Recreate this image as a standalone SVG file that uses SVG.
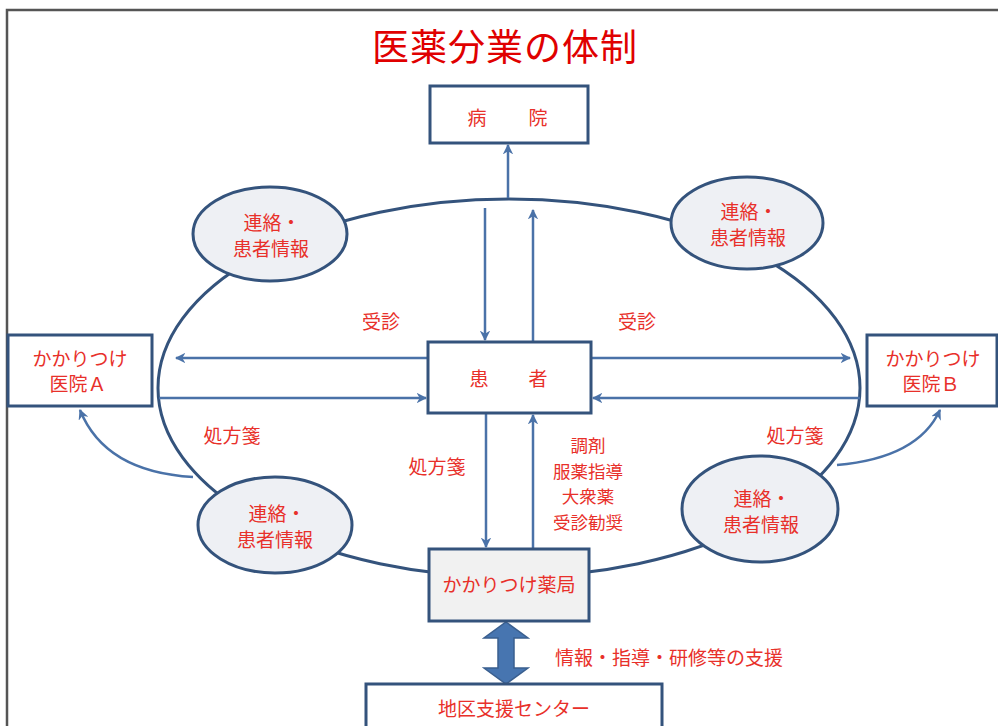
<svg xmlns="http://www.w3.org/2000/svg" width="998" height="726" viewBox="0 0 998 726">
<defs>
<marker id="ah" viewBox="0 0 10 10" refX="9" refY="5" markerWidth="4.2" markerHeight="4.2" orient="auto-start-reverse" markerUnits="strokeWidth">
<path d="M0,0 L10,5 L0,10 L3,5 Z" fill="#4a72a8"/>
</marker>
<style>
.t{font-family:"Noto Sans CJK JP","Noto Sans",sans-serif;fill:#e8302a;font-size:19px;text-anchor:middle}
.box{fill:#fff;stroke:#34537c;stroke-width:3}
.boxg{fill:#f1f1f1;stroke:#34537c;stroke-width:3}
.el{fill:#eef0f4;stroke:#34537c;stroke-width:3}
.ln{fill:none;stroke:#4a72a8;stroke-width:2.5}
.ring{fill:none;stroke:#34537c;stroke-width:3}
</style>
</defs>
<rect width="998" height="726" fill="#fff"/>
<path d="M7,726 V10 H998" fill="none" stroke="#555" stroke-width="2.5"/>
<text x="505" y="61" class="t" style="font-size:37px;fill:#e00000;letter-spacing:1px">医薬分業の体制</text>

<g id="connectors">
<ellipse class="ring" cx="509" cy="388" rx="351" ry="189"/>
<line class="ln" x1="508" y1="198" x2="508" y2="145" marker-end="url(#ah)"/>
<line class="ln" x1="485" y1="208" x2="485" y2="340" marker-end="url(#ah)"/>
<line class="ln" x1="533" y1="342" x2="533" y2="210" marker-end="url(#ah)"/>
<line class="ln" x1="486" y1="413" x2="486" y2="547" marker-end="url(#ah)"/>
<line class="ln" x1="533" y1="549" x2="533" y2="415" marker-end="url(#ah)"/>
<line class="ln" x1="428" y1="358" x2="176" y2="358" marker-end="url(#ah)"/>
<line class="ln" x1="159" y1="398" x2="426" y2="398" marker-end="url(#ah)"/>
<line class="ln" x1="591" y1="358" x2="850" y2="358" marker-end="url(#ah)"/>
<line class="ln" x1="860" y1="398" x2="593" y2="398" marker-end="url(#ah)"/>
<path class="ln" d="M193,477 Q105,472 80,410" marker-end="url(#ah)"/>
<path class="ln" d="M837,465 Q918,458 940,410" marker-end="url(#ah)"/>
<path d="M506,622 L528,638 L514,638 L514,668 L528,668 L506,684 L484,668 L498,668 L498,638 L484,638 Z" fill="#4775b0" stroke="#3a5f8f" stroke-width="1.5"/>
</g>

<g id="hospital">
<rect class="box" x="430" y="86" width="158" height="57"/>
<text class="t" y="125"><tspan x="477">病</tspan><tspan x="538">院</tspan></text>
</g>
<g id="patient">
<rect class="box" x="428" y="342" width="163" height="71"/>
<text class="t" y="386"><tspan x="479">患</tspan><tspan x="538">者</tspan></text>
</g>
<g id="clinicA">
<rect class="box" x="8" y="335" width="144" height="71"/>
<text class="t" x="80" y="366">かかりつけ</text>
<text class="t" x="78" y="391">医院Ａ</text>
</g>
<g id="clinicB">
<rect class="box" x="867" y="335" width="130" height="71"/>
<text class="t" x="933" y="366">かかりつけ</text>
<text class="t" x="931" y="391">医院Ｂ</text>
</g>
<g id="pharmacy">
<rect class="boxg" x="429" y="549" width="160" height="72"/>
<text class="t" x="509" y="592">かかりつけ薬局</text>
</g>
<g id="center">
<rect class="box" x="366" y="684" width="296" height="50"/>
<text class="t" x="514" y="716">地区支援センター</text>
</g>
<g id="infoTL">
<ellipse class="el" cx="270" cy="234" rx="77" ry="47"/>
<text class="t" x="272" y="230">連絡・</text>
<text class="t" x="271" y="256">患者情報</text>
</g>
<g id="infoTR">
<ellipse class="el" cx="747" cy="223" rx="76" ry="46"/>
<text class="t" x="749" y="219">連絡・</text>
<text class="t" x="748" y="245">患者情報</text>
</g>
<g id="infoBL">
<ellipse class="el" cx="275" cy="525" rx="77" ry="48"/>
<text class="t" x="277" y="521">連絡・</text>
<text class="t" x="275" y="547">患者情報</text>
</g>
<g id="infoBR">
<ellipse class="el" cx="760" cy="509" rx="78" ry="53"/>
<text class="t" x="762" y="506">連絡・</text>
<text class="t" x="761" y="532">患者情報</text>
</g>

<g id="labels">
<text class="t" x="381" y="329">受診</text>
<text class="t" x="637" y="329">受診</text>
<text class="t" x="232" y="443">処方箋</text>
<text class="t" x="795" y="443">処方箋</text>
<text class="t" x="437" y="474">処方箋</text>
<text class="t" x="588" y="452" style="font-size:17.5px">調剤</text>
<text class="t" x="588" y="477.5" style="font-size:17.5px">服薬指導</text>
<text class="t" x="588" y="503" style="font-size:17.5px">大衆薬</text>
<text class="t" x="588" y="528.5" style="font-size:17.5px">受診勧奨</text>
<text class="t" x="669" y="665">情報・指導・研修等の支援</text>
</g>
</svg>
